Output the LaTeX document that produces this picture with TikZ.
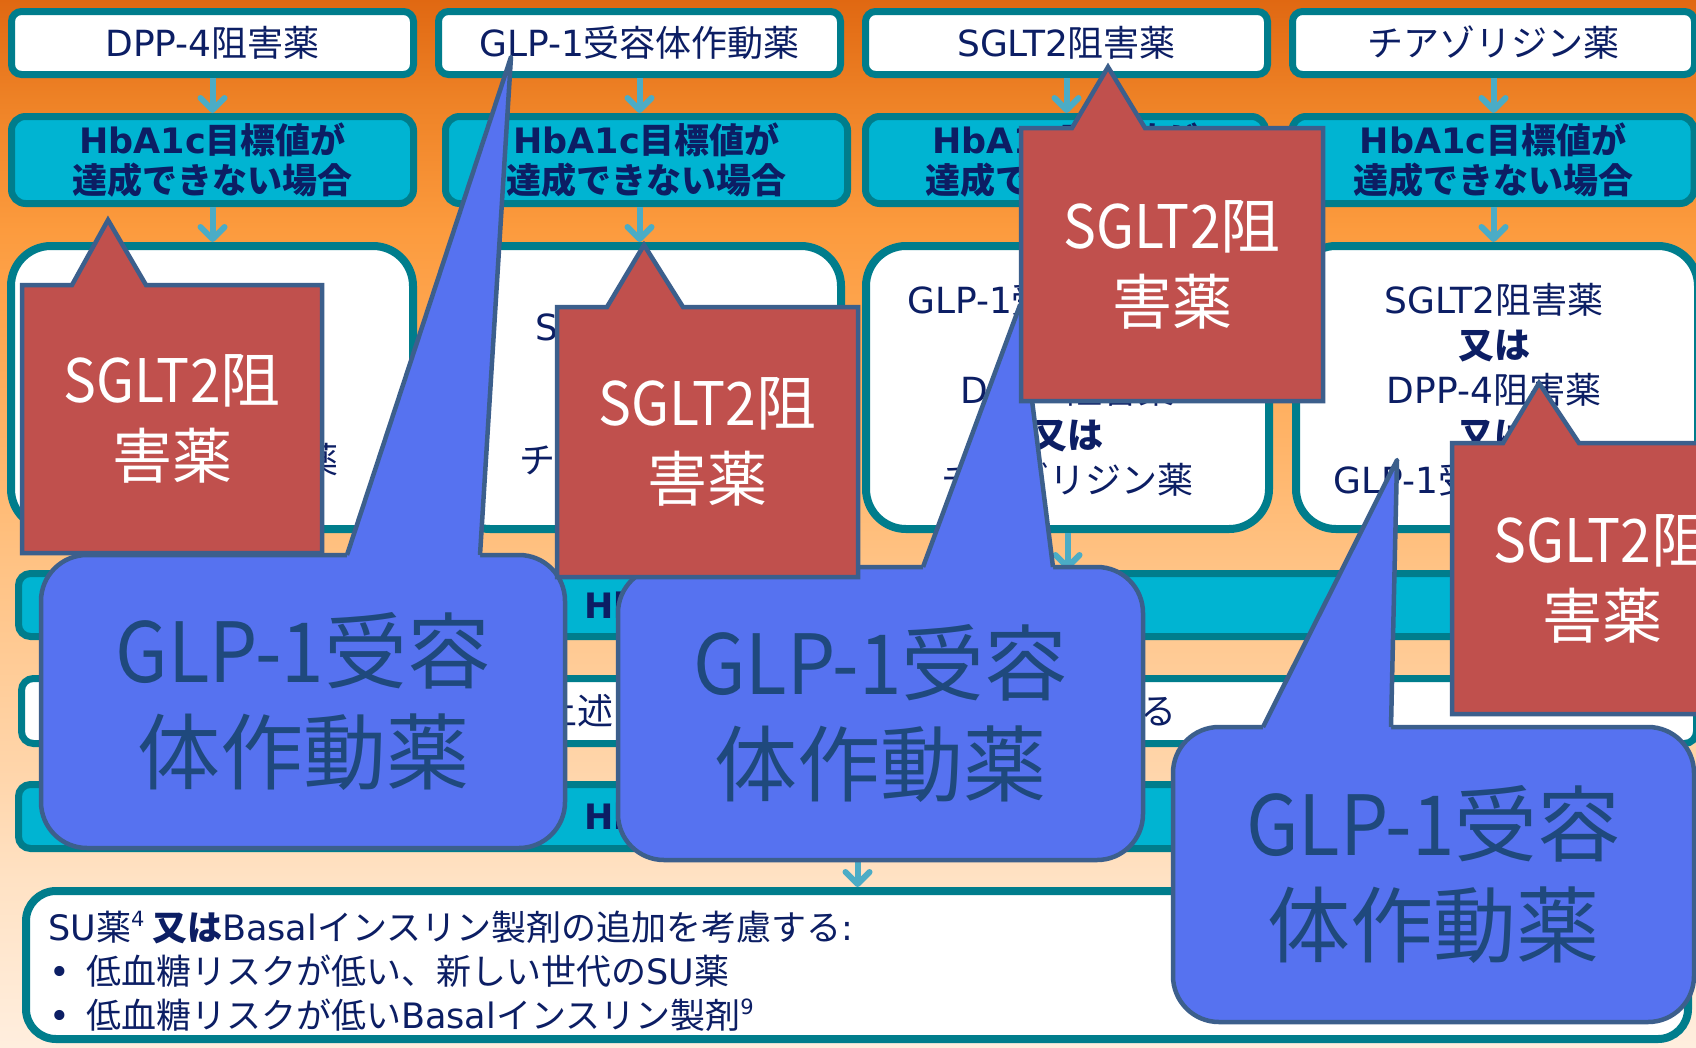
\documentclass[tikz,border=0pt]{standalone}
\usepackage{fontspec}
\usepackage{graphicx}
\setmainfont{Noto Sans CJK JP}
\newfontfamily\lat{DejaVu Sans}
\usetikzlibrary{arrows.meta}

\definecolor{tealb}{RGB}{0,125,140}
\definecolor{cyanf}{RGB}{0,180,210}
\definecolor{navy}{RGB}{12,30,100}
\definecolor{arrowc}{RGB}{75,172,198}
\definecolor{redf}{RGB}{192,80,77}
\definecolor{bluef}{RGB}{86,114,240}
\definecolor{callb}{RGB}{60,95,140}
\definecolor{bluet}{RGB}{31,73,125}
\definecolor{bgA}{RGB}{255,238,222}
\definecolor{bgB}{RGB}{255,226,196}
\definecolor{bgC}{RGB}{255,216,176}
\definecolor{bgD}{RGB}{255,194,131}
\definecolor{bgE}{RGB}{255,175,95}
\definecolor{bgF}{RGB}{252,155,62}
\definecolor{bgG}{RGB}{238,130,38}
\definecolor{bgH}{RGB}{224,104,18}
\pgfdeclareverticalshading{bgsh}{100bp}{color(0bp)=(bgA); color(25bp)=(bgA); color(33bp)=(bgB); color(36.8bp)=(bgC); color(48.25bp)=(bgD); color(55.9bp)=(bgE); color(64bp)=(bgF); color(70.2bp)=(bgG); color(75bp)=(bgH); color(100bp)=(bgH)}

\newcommand\fsA{\fontsize{36pt}{45pt}\selectfont}
\newcommand\fsB{\fontsize{35pt}{40pt}\selectfont}
\newcommand\fsC{\fontsize{35pt}{44pt}\selectfont}
\newcommand\fsR{\fontsize{60pt}{76pt}\selectfont}
\newcommand\fsL{\fontsize{83pt}{101pt}\selectfont}
\newcommand\supnum[1]{\raisebox{14pt}{\fontsize{21pt}{21pt}\selectfont\lat #1}}
\newcommand\narrowlat[1]{\scalebox{0.92}[1]{#1}}

\tikzset{
  topbox/.style={draw=tealb, line width=7pt, fill=white, rounded corners=10pt,
    minimum width=402pt, minimum height=63pt, inner sep=0pt, text=navy, font=\fsA},
  hbbox/.style={draw=tealb, line width=7pt, fill=cyanf, rounded corners=14pt,
    minimum width=402pt, minimum height=87pt, inner sep=0pt, text=navy,
    font=\fsB\bfseries, align=center},
  midbox/.style={draw=tealb, line width=8pt, fill=white, rounded corners=40pt,
    minimum height=283pt, inner sep=0pt},
  midtext/.style={text=navy, align=center, inner sep=0pt},
  barbox/.style={draw=tealb, line width=7pt, rounded corners=12pt,
    inner sep=0pt, text=navy},
  flowarrow/.style={draw=arrowc, line width=6pt,
    -{Straight Barb[round, length=12pt, width=24pt]}},
  redcall/.style={fill=redf, draw=callb, line width=4.5pt, line join=miter},
  bluebody/.style={fill=bluef, draw=callb, line width=4.5pt, rounded corners=46pt},
  blueside/.style={draw=callb, line width=4.5pt, line join=round},
  redtext/.style={text=white, font=\fsR, align=center, inner sep=0pt},
  bluetext/.style={text=bluet, font=\fsL, align=center, inner sep=0pt},
  bottomtext/.style={anchor=base west, text=navy, font=\fsC, inner sep=0pt},
}

\begin{document}
\begin{tikzpicture}[x=1pt,y=-1pt]
\useasboundingbox (0,0) rectangle (1696,1047);
\clip (0,0) rectangle (1696,1047);
\shade[shading=bgsh] (0,0) rectangle (1696,1047);

% ---- top row
\node[topbox] (t1) at (212.5,43) {{\lat DPP-4}阻害薬};
\node[topbox] (t2) at (639.5,43) {{\lat GLP-1}受容体作動薬};
\node[topbox] (t3) at (1066.5,43) {{\lat SGLT2}阻害薬};
\node[topbox] (t4) at (1493.5,43) {チアゾリジン薬};

% ---- HbA1c row
\node[hbbox] (h1) at (212.5,160) {{\lat\bfseries HbA1c}目標値が\\達成できない場合};
\node[hbbox] (h2) at (646.5,160) {{\lat\bfseries HbA1c}目標値が\\達成できない場合};
\node[hbbox, minimum width=400pt] (h3) at (1065.5,160) {{\lat\bfseries HbA1c}目標値が\\達成できない場合};
\node[hbbox] (h4) at (1493,160) {{\lat\bfseries HbA1c}目標値が\\達成できない場合};

% ---- third row
\node[midbox, minimum width=402pt] (m1) at (212,387.5) {};
\node[midbox, minimum width=391pt] (m2) at (645.5,387.5) {};
\node[midbox, minimum width=403pt] (m3) at (1067.5,387.5) {};
\node[midbox, minimum width=402pt] (m4) at (1497,387.5) {};
\node[midtext, font=\fontsize{36pt}{66.5pt}\selectfont] (mt1) at (212,393.5)
  {{\lat SGLT2}阻害薬\\{\bfseries 又は}\\チアゾリジン薬};
\node[midtext, font=\fontsize{36pt}{66.5pt}\selectfont] (mt2) at (645,393.5)
  {{\lat SGLT2}阻害薬\\{\bfseries 又は}\\チアゾリジン薬};
\node[midtext, font=\fontsize{36pt}{45pt}\selectfont] (mt3) at (1067.5,390)
  {{\lat GLP-1}受容体作動薬\\{\bfseries 又は}\\{\lat DPP-4}阻害薬\\{\bfseries 又は}\\チアゾリジン薬};
\node[midtext, font=\fontsize{36pt}{45pt}\selectfont] (mt4) at (1494,390)
  {{\lat SGLT2}阻害薬\\{\bfseries 又は}\\{\lat DPP-4}阻害薬\\{\bfseries 又は}\\{\lat GLP-1}受容体作動薬};

% ---- full-width rows
\node[barbox, fill=cyanf, minimum width=1678pt, minimum height=63pt, font=\fsB\bfseries] (r4) at (857.5,605)
  {{\lat\bfseries HbA1c}目標値が達成できない場合};
\node[barbox, fill=white, minimum width=1675pt, minimum height=65pt, font=\fsA] (r5) at (859,711)
  {上述の薬剤のうち{\lat 3}剤の併用を考慮する};
\node[barbox, fill=cyanf, minimum width=1678pt, minimum height=64pt, font=\fsB\bfseries] (r6) at (857.5,816.5)
  {{\lat\bfseries HbA1c}目標値が達成できない場合};
\node[barbox, fill=white, line width=8pt, rounded corners=30pt, minimum width=1662pt, minimum height=148pt] (bb) at (857,965) {};

\node[bottomtext] (l1) at (48,940)
  {{\lat SU}薬\supnum{4}\ {\bfseries 又は}{\lat Basal}インスリン製剤の追加を考慮する{\lat :}};
\node[bottomtext] (l2) at (49,984)
  {\makebox[37pt][l]{\lat •}低血糖リスクが低い、新しい世代の{\lat SU}薬};
\node[bottomtext] (l3) at (49,1028)
  {\makebox[37pt][l]{\lat •}低血糖リスクが低い{\lat Basal}インスリン製剤\supnum{9}};

% ---- arrows
\draw[flowarrow] (t1.south) -- (t1.south |- h1.north);
\draw[flowarrow] (t2.south) -- (t2.south |- h2.north);
\draw[flowarrow] (t3.south) -- (t3.south |- h3.north);
\draw[flowarrow] (t4.south) -- (t4.south |- h4.north);
\draw[flowarrow] (t1.south |- h1.south) -- (t1.south |- m1.north);
\draw[flowarrow] (t2.south |- h2.south) -- (t2.south |- m2.north);
\draw[flowarrow] (t3.south |- h3.south) -- (t3.south |- m3.north);
\draw[flowarrow] (t4.south |- h4.south) -- (t4.south |- m4.north);
\draw[flowarrow] (m1.south) -- (m1.south |- r4.north);
\draw[flowarrow] (m2.south) -- (m2.south |- r4.north);
\draw[flowarrow] (m3.south) -- (m3.south |- r4.north);
\draw[flowarrow] (m4.south) -- (m4.south |- r4.north);
\draw[flowarrow] (r4.south) -- (r4.south |- r5.north);
\draw[flowarrow] (r4.south |- r5.south) -- (r4.south |- r6.north);
\draw[flowarrow] (r6.south) -- (r6.south |- bb.north);

% ---- blue callouts
\draw[bluebody] (41,555) rectangle (565,848);
\fill[bluef] (347,555) -- (511,57) -- (480,555) -- (480,560) -- (347,560) -- cycle;
\draw[blueside] (347,555) -- (511,57) -- (480,555);
\node[bluetext] (bt1) at (303,701.5) {\narrowlat{GLP-1}受容\\体作動薬};

\draw[bluebody] (618,567) rectangle (1143,860);
\fill[bluef] (923,567) -- (1020,305) -- (1053,567) -- (1053,572) -- (923,572) -- cycle;
\draw[blueside] (923,567) -- (1020,305) -- (1053,567);
\node[bluetext] (bt2) at (880.5,713.5) {\narrowlat{GLP-1}受容\\体作動薬};

\draw[bluebody] (1173,727) rectangle (1694,1022);
\fill[bluef] (1263,727) -- (1397,460) -- (1391,727) -- (1391,732) -- (1263,732) -- cycle;
\draw[blueside] (1263,727) -- (1397,460) -- (1391,727);
\node[bluetext] (bt3) at (1433.5,874.5) {\narrowlat{GLP-1}受容\\体作動薬};

% ---- red callouts
\draw[redcall] (22,285) -- (72,285) -- (108,220) -- (146,285) -- (322,285) -- (322,553) -- (22,553) -- cycle;
\node[redtext] (rt1) at (172,419) {\narrowlat{SGLT2}阻\\害薬};
\draw[redcall] (557,307) -- (607,307) -- (644,245) -- (683,307) -- (858,307) -- (858,577) -- (557,577) -- cycle;
\node[redtext] (rt2) at (707.5,442) {\narrowlat{SGLT2}阻\\害薬};
\draw[redcall] (1021,128) -- (1072,128) -- (1108,67) -- (1145,128) -- (1323,128) -- (1323,401) -- (1021,401) -- cycle;
\node[redtext] (rt3) at (1172,264.5) {\narrowlat{SGLT2}阻\\害薬};
\draw[redcall] (1452,443) -- (1503,443) -- (1539,383) -- (1579,443) -- (1753,443) -- (1753,714) -- (1452,714) -- cycle;
\node[redtext] (rt4) at (1602.5,578.5) {\narrowlat{SGLT2}阻\\害薬};
\end{tikzpicture}
\end{document}
